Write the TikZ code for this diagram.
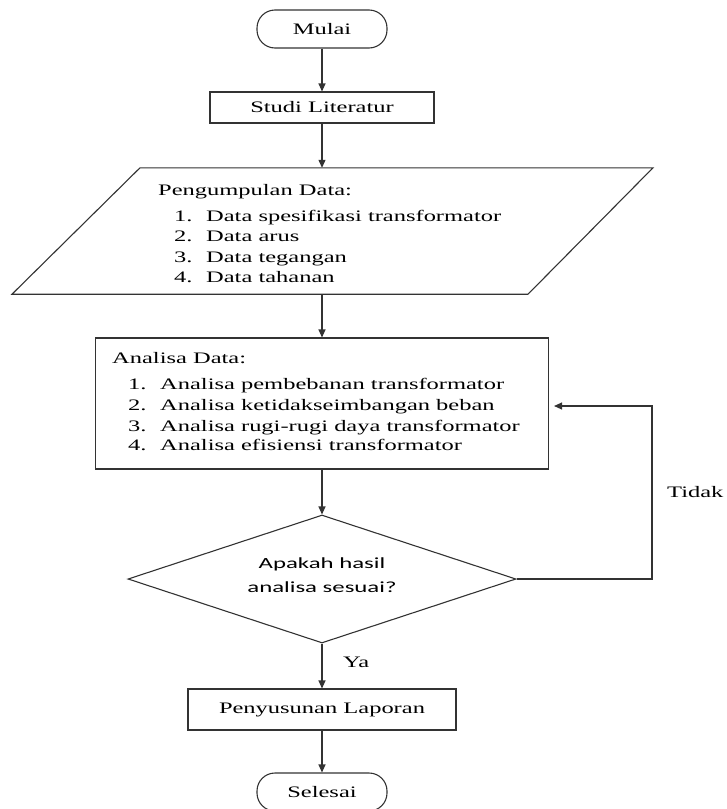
\documentclass[tikz,border=0pt]{standalone}
\usepackage{fontspec}
\setmainfont{Liberation Serif}[FakeStretch=1.53]
\newfontfamily\diafont{Carlito}[FakeStretch=1.6]
\usetikzlibrary{arrows.meta,shapes.geometric}
\begin{document}
\begin{tikzpicture}[x=1pt,y=-1pt,
  line/.style={line width=1.1pt, draw=black!80},
  arr/.style={line, -{Triangle[length=8pt,width=7pt]}},
  mainfont/.style={font=\fontsize{16}{19}\selectfont},
  box/.style={line, rectangle, inner sep=0pt, mainfont},
  term/.style={line, rectangle, rounded corners=18pt, inner sep=0pt,
    minimum width=130pt, minimum height=38pt, mainfont},
  txt/.style={inner sep=0pt, anchor=base west, mainfont},
  diatxt/.style={inner sep=0pt, anchor=base, font=\diafont\fontsize{15.5}{19}\selectfont},
]
\useasboundingbox[fill=white] (0,0) rectangle (726,809);

% terminals and boxes
\node[term] (mulai) at (322,29) {Mulai};
\node[box, minimum width=224pt, minimum height=31pt] (studi) at (322,107.5) {Studi Literatur};

% parallelogram (data input)
\node[inner sep=0pt, minimum width=200pt, minimum height=126pt] (pd) at (322,231) {};
\draw[line] ([xshift=-182pt]pd.north) -- ([xshift=331pt]pd.north)
  -- ([xshift=206pt]pd.south) -- ([xshift=-310pt]pd.south) -- cycle;
\node[txt] (pd0) at (158,195) {Pengumpulan Data:};
\node[txt] (pdn1) at (174,221) {1.};
\node[txt] (pdt1) at (206,221) {Data spesifikasi transformator};
\node[txt] (pdn2) at (174,241) {2.};
\node[txt] (pdt2) at (206,241) {Data arus};
\node[txt] (pdn3) at (174,262) {3.};
\node[txt] (pdt3) at (206,262) {Data tegangan};
\node[txt] (pdn4) at (174,282) {4.};
\node[txt] (pdt4) at (206,282) {Data tahanan};

% analysis box
\node[box, minimum width=453pt, minimum height=131pt] (an) at (322,403.5) {};
\node[txt] (an0) at (112,363) {Analisa Data:};
\node[txt] (ann1) at (128,389) {1.};
\node[txt] (ant1) at (160,389) {Analisa pembebanan transformator};
\node[txt] (ann2) at (128,410) {2.};
\node[txt] (ant2) at (160,410) {Analisa ketidakseimbangan beban};
\node[txt] (ann3) at (128,431) {3.};
\node[txt] (ant3) at (160,431) {Analisa rugi-rugi daya transformator};
\node[txt] (ann4) at (128,450) {4.};
\node[txt] (ant4) at (160,450) {Analisa efisiensi transformator};

% decision
\node[line, diamond, aspect=3, inner sep=0pt, minimum width=388pt, minimum height=128pt] (dec) at (322,579) {};
\node[diatxt] (dec1) at (322,568) {Apakah hasil};
\node[diatxt] (dec2) at (322,592) {analisa sesuai?};

\node[box, minimum width=268pt, minimum height=41pt] (lap) at (322,709.5) {Penyusunan Laporan};
\node[term] (selesai) at (322,792) {Selesai};

% labels
\node[txt] (ya) at (343,667) {Ya};
\node[txt] (tidak) at (667,497) {Tidak};

% connectors
\draw[arr] (mulai) -- (studi);
\draw[arr] (studi) -- (pd);
\draw[arr] (pd) -- (an);
\draw[arr] (an) -- (dec);
\draw[arr] (dec) -- (lap);
\draw[arr] (lap) -- (selesai);
\coordinate (c1) at (652,579);
\coordinate (c2) at (652,406);
\draw[arr, shorten >=5pt] (dec.east) -- (c1) -- (c2) -- (an.east |- c2);
\end{tikzpicture}
\end{document}
